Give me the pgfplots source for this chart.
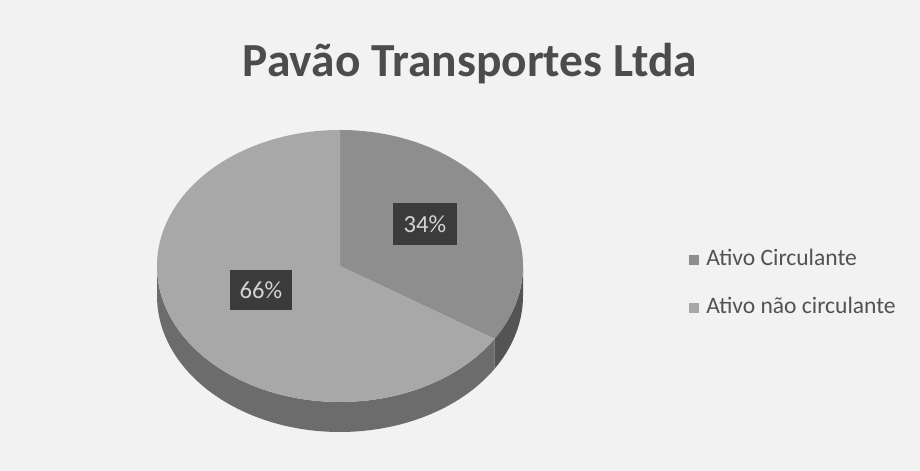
\documentclass[border=0pt]{standalone}
\usepackage{pgfplots}
\pgfplotsset{compat=1.18}
\usepackage{pgfplotstable}
\usepackage{fontspec}
\setmainfont{Carlito}

\definecolor{sAtop}{HTML}{8E8E8E}
\definecolor{sBtop}{HTML}{A8A8A8}
\definecolor{sAside}{HTML}{545454}
\definecolor{sBside}{HTML}{6C6C6C}
\definecolor{bg}{HTML}{F2F2F2}

\pgfplotstableread{
cat value
1 34
2 66
}\piedata

\begin{document}
\begin{tikzpicture}
\pgfplotstablegetelem{0}{value}\of\piedata \pgfmathsetmacro{\va}{\pgfplotsretval}
\pgfplotstablegetelem{1}{value}\of\piedata \pgfmathsetmacro{\vb}{\pgfplotsretval}
\pgfmathsetmacro{\aEnd}{90-360*\va/(\va+\vb)}
\pgfmathsetmacro{\aEndP}{\aEnd+360}
\begin{axis}[x=0.1mm,y=0.1mm, xmin=0,xmax=920,ymin=0,ymax=471,
  hide axis, clip=false,
  legend style={at={(axis cs:688,187)}, anchor=west, draw=none, fill=none,
    font=\fontsize{6.7}{7}\selectfont, text=black!68, row sep=3.6pt,
    cells={anchor=west}, inner sep=0pt},
  legend image code/.code={\fill[#1] (0pt,-1.3pt) rectangle (2.6pt,1.3pt);}]
\fill[bg] (axis cs:0,0) rectangle (axis cs:920,471);
% side of the pie
\fill[sBside] (axis cs:157,205) arc[start angle=180, end angle=\aEndP, x radius=18.3mm, y radius=13.6mm]
   -- ++(0,-3mm) arc[start angle=\aEndP, end angle=180, x radius=18.3mm, y radius=13.6mm] -- cycle;
\fill[sAside] (axis cs:340,205) ++(\aEnd:18.3mm and 13.6mm) arc[start angle=\aEnd, end angle=0, x radius=18.3mm, y radius=13.6mm]
   -- ++(0,-3mm) arc[start angle=0, end angle=\aEnd, x radius=18.3mm, y radius=13.6mm] -- cycle;
% top of the pie
\fill[sAtop] (axis cs:340,205) -- ++(90:18.3mm and 13.6mm) arc[start angle=90, end angle=\aEnd, x radius=18.3mm, y radius=13.6mm] -- cycle;
\fill[sBtop] (axis cs:340,205) -- ++(\aEnd:18.3mm and 13.6mm) arc[start angle=\aEnd, end angle=-270, x radius=18.3mm, y radius=13.6mm] -- cycle;
% labels
\node[fill=black!77, text=black!17, inner sep=0pt, minimum width=6.4mm, minimum height=4.2mm,
  font=\fontsize{7}{8}\selectfont] at (axis cs:425,247) {34\%};
\node[fill=black!77, text=black!17, inner sep=0pt, minimum width=6.2mm, minimum height=4.0mm,
  font=\fontsize{7}{8}\selectfont] at (axis cs:261,181) {66\%};
% title
\node[anchor=base, font=\fontsize{13.5}{15}\selectfont\bfseries, text=black!70] at (axis cs:470,394) {Pavão Transportes Ltda};
\addlegendimage{sAtop}
\addlegendentry{Ativo Circulante}
\addlegendimage{sBtop}
\addlegendentry{Ativo não circulante}
\end{axis}
\end{tikzpicture}
\end{document}
